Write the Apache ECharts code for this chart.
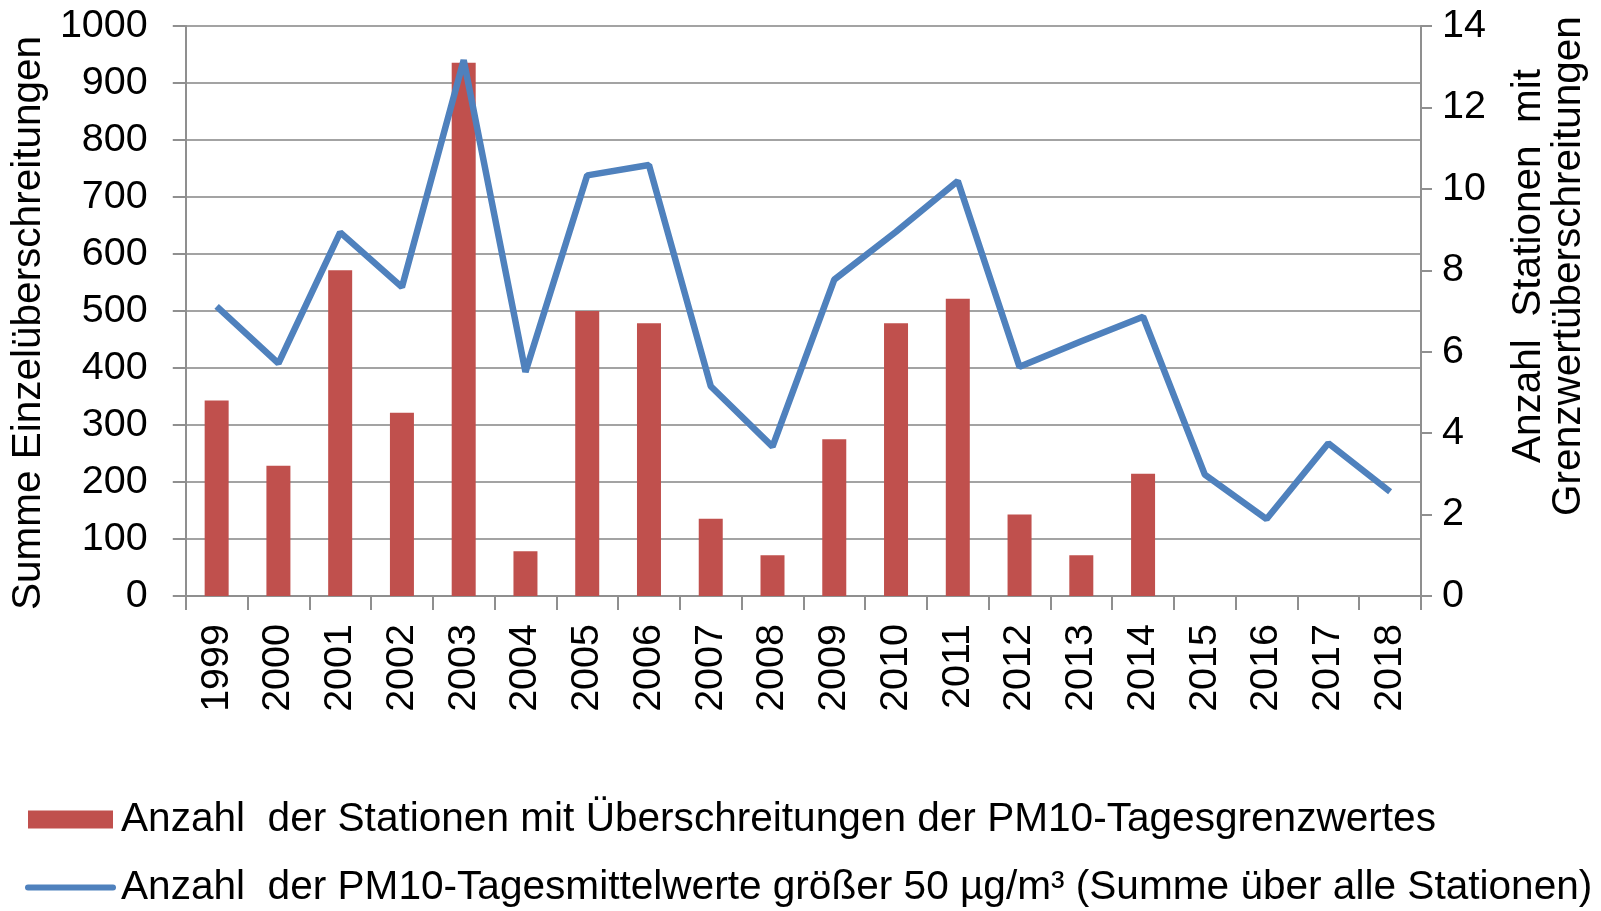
<!DOCTYPE html>
<html>
<head>
<meta charset="utf-8">
<script src="https://cdn.jsdelivr.net/npm/echarts@6/dist/echarts.min.js"></script>
<style>
    html, body { margin: 0; padding: 0; background: #fff; }
    #chart { width: 1601px; height: 911px; }
</style>
</head>
<body>
<div id="chart"></div>
<script>
const years = ['1999', '2000', '2001', '2002', '2003', '2004', '2005', '2006', '2007', '2008',
    '2009', '2010', '2011', '2012', '2013', '2014', '2015', '2016', '2017', '2018'];
// stations with exceedances (right axis)
const stations = [4.8, 3.2, 8.0, 4.5, 13.1, 1.1, 7.0, 6.7, 1.9, 1.0,
    3.85, 6.7, 7.3, 2.0, 1.0, 3.0, null, null, null, null];
// sum of daily means > 50 (left axis)
const exceedSum = [508, 408, 638, 542, 940, 393, 738, 756, 368, 262,
    555, 639, 728, 402, 447, 490, 213, 135, 268, 183];

const BAR_NAME = 'Anzahl  der Stationen mit Überschreitungen der PM10-Tagesgrenzwertes';
const LINE_NAME = 'Anzahl  der PM10-Tagesmittelwerte größer 50 µg/m³ (Summe über alle Stationen)';

const FONT = 'Liberation Sans, Arial, sans-serif';
const GRID_COLOR = '#a3a3a3';
const AXIS_COLOR = '#8f8f8f';
const RED = '#C0504D';
const BLUE = '#4F81BD';

const chart = echarts.init(document.getElementById('chart'));

chart.setOption({
    animation: false,
    textStyle: { fontFamily: FONT, color: '#000' },
    grid: { left: 184, right: 180, top: 26, bottom: 315 },
    legend: {
        orient: 'vertical',
        left: 25,
        top: 799,
        padding: 0,
        height: 110,
        itemWidth: 85,
        itemHeight: 18,
        itemGap: 27,
        textStyle: { fontFamily: FONT, fontSize: 40.6, color: '#000', lineHeight: 40, padding: [0, 0, 0, 3] },
        data: [
            { name: BAR_NAME, icon: 'rect' },
            { name: LINE_NAME, itemStyle: { opacity: 0 }, lineStyle: { width: 6, cap: 'round' } }
        ]
    },
    xAxis: {
        type: 'category',
        data: years,
        axisLine: { lineStyle: { color: AXIS_COLOR, width: 2 } },
        axisTick: { show: true, length: 14, lineStyle: { color: AXIS_COLOR, width: 2 } },
        axisLabel: { rotate: 90, fontSize: 39.5, color: '#000', margin: 28, fontFamily: FONT }
    },
    yAxis: [
        {
            type: 'value',
            min: 0,
            max: 1000,
            interval: 100,
            name: 'Summe Einzelüberschreitungen',
            nameLocation: 'middle',
            nameRotate: 90,
            nameGap: 124,
            nameTextStyle: { fontSize: 40.5, color: '#000', fontFamily: FONT, padding: [0, 24, 0, 0] },
            axisLine: { show: true, lineStyle: { color: AXIS_COLOR, width: 2 } },
            axisTick: { show: true, length: 13, lineStyle: { color: AXIS_COLOR, width: 2 } },
            axisLabel: {
                fontSize: 39.5, color: '#000', margin: 38, fontFamily: FONT,
                formatter: function (v) { return String(v); }
            },
            splitLine: { lineStyle: { color: GRID_COLOR, width: 2 } }
        },
        {
            type: 'value',
            min: 0,
            max: 14,
            interval: 2,
            position: 'right',
            name: 'Anzahl  Stationen  mit\nGrenzwertüberschreitungen',
            nameLocation: 'middle',
            nameRotate: 90,
            nameGap: 88,
            nameTextStyle: { fontSize: 40.5, color: '#000', fontFamily: FONT, lineHeight: 40, padding: [0, 0, 0, 90] },
            axisLine: { show: true, lineStyle: { color: AXIS_COLOR, width: 2 } },
            axisTick: { show: true, length: 11, lineStyle: { color: AXIS_COLOR, width: 2 } },
            axisLabel: { fontSize: 39.5, color: '#000', margin: 21, fontFamily: FONT },
            splitLine: { show: false }
        }
    ],
    series: [
        {
            name: BAR_NAME,
            type: 'bar',
            yAxisIndex: 1,
            data: stations,
            barWidth: 24,
            itemStyle: { color: RED }
        },
        {
            name: LINE_NAME,
            type: 'line',
            yAxisIndex: 0,
            data: exceedSum,
            symbol: 'none',
            lineStyle: { color: BLUE, width: 6.5 },
            itemStyle: { color: BLUE }
        }
    ]
});
</script>
</body>
</html>
